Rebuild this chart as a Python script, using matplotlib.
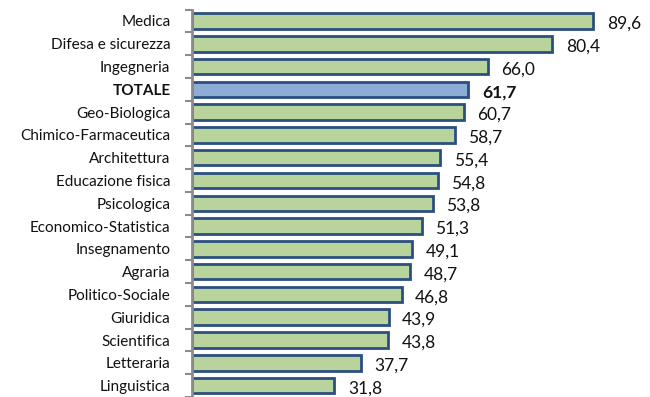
import numpy as np
import matplotlib.pyplot as plt
from matplotlib.ticker import FixedLocator, NullFormatter

# categories top to bottom and their values
categories = ['Medica', 'Difesa e sicurezza', 'Ingegneria', 'TOTALE', 'Geo-Biologica',
              'Chimico-Farmaceutica', 'Architettura', 'Educazione fisica', 'Psicologica',
              'Economico-Statistica', 'Insegnamento', 'Agraria', 'Politico-Sociale',
              'Giuridica', 'Scientifica', 'Letteraria', 'Linguistica']
values = [89.6, 80.4, 66.0, 61.7, 60.7, 58.7, 55.4, 54.8, 53.8, 51.3, 49.1, 48.7,
          46.8, 43.9, 43.8, 37.7, 31.8]

green = '#B8D49C'
blue = '#8DADD7'
edge = '#2B4F80'

plt.rcParams['font.family'] = ['Lato', 'DejaVu Sans']

fig = plt.figure(figsize=(6.5, 3.97), dpi=100)
ax = fig.add_axes([192 / 650, 0.0, 448 / 650, 1 - 9.6 / 397])

n = len(categories)
y = np.arange(n)
colors = [blue if c == 'TOTALE' else green for c in categories]
ax.barh(y, values, height=0.68, color=colors, edgecolor=edge, linewidth=2)

ax.set_xlim(0, 100)
ax.set_ylim(n - 0.5, -0.5)
ax.set_xticks([])

# category labels at bar centres, tick marks at the boundaries
ax.set_yticks(y)
ax.set_yticklabels(categories, fontsize=11, color='#111111')
ax.tick_params(axis='y', which='major', length=0, pad=15.5)
ax.yaxis.set_minor_locator(FixedLocator(np.arange(-0.5, n, 1)))
ax.yaxis.set_minor_formatter(NullFormatter())
ax.tick_params(axis='y', which='minor', length=5, width=1.5, color='#8C8C8C')
for lbl in ax.get_yticklabels():
    if lbl.get_text() == 'TOTALE':
        lbl.set_fontweight('bold')

for s in ['top', 'right', 'bottom']:
    ax.spines[s].set_visible(False)
ax.spines['left'].set_color('#8C8C8C')
ax.spines['left'].set_linewidth(2)

for yi, v, c in zip(y, values, categories):
    ax.text(v + 3.0, yi + 0.12, f'{v:.1f}'.replace('.', ','), va='center', ha='left',
            fontsize=12.5, color='#111111',
            fontweight='bold' if c == 'TOTALE' else 'normal')

fig.savefig('out.png', dpi=100)
